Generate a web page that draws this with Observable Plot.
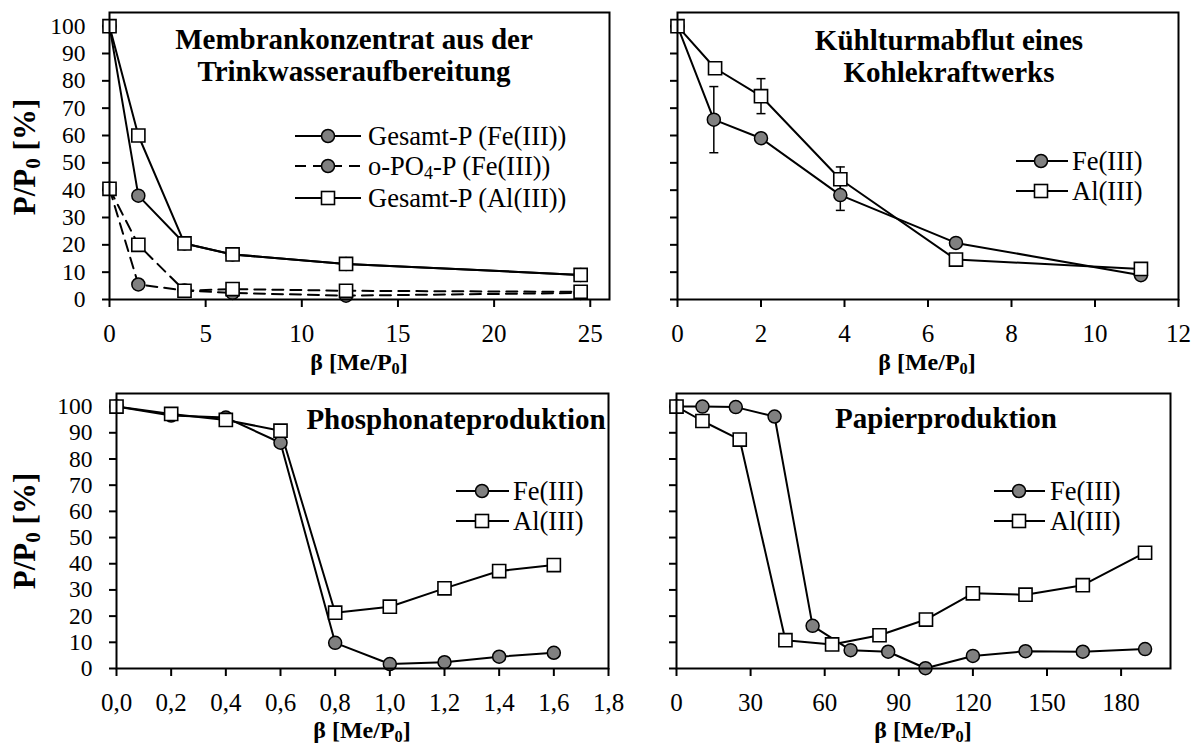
<!DOCTYPE html>
<html><head><meta charset="utf-8">
<script src="https://cdn.jsdelivr.net/npm/d3@7"></script>
<script src="https://cdn.jsdelivr.net/npm/@observablehq/plot@0.6"></script>
<style>
body{margin:0;background:#fff;}
#root{position:relative;width:1201px;height:749px;font-family:"Liberation Serif","Times New Roman",serif;color:#000;overflow:hidden;}
.panel{position:absolute;}
.title{position:absolute;font-weight:bold;font-size:29px;line-height:32px;white-space:nowrap;text-align:center;transform:translate(-50%,-50%);}
.xlab{position:absolute;font-weight:bold;font-size:24px;line-height:1;white-space:nowrap;transform:translate(-50%,-50%);}
.ylab{position:absolute;font-weight:bold;font-size:31px;line-height:1;white-space:nowrap;transform:translate(-50%,-50%) rotate(-90deg);}
.legtxt{position:absolute;font-size:26.5px;line-height:1;white-space:nowrap;transform:translateY(-50%);}
sub{font-size:0.68em;vertical-align:-0.25em;line-height:0;}
#legsvg{position:absolute;left:0;top:0;}
</style></head>
<body><div id="root"></div>
<script>
// ---------- data ----------
// Panel 1: Membrankonzentrat aus der Trinkwasseraufbereitung
const p1X      = [0, 1.5, 3.9, 6.4, 12.3, 24.5];
const p1TotFe  = [100, 38, 20.5, 16.5, 13, 9];
const p1TotAl  = [100, 60, 20.5, 16.5, 13, 9];
const p1OrthoFe = [40.5, 5.5, 3.3, 2.4, 1.4, 2.4];
const p1OrthoAl = [40.5, 20, 3.2, 3.8, 3.2, 2.8];
const p1XTicks = [0, 5, 10, 15, 20, 25];

// Panel 2: Kühlturmabflut eines Kohlekraftwerks
const p2XFe = [0, 0.87, 2.0, 3.9, 6.67, 11.1];
const p2Fe  = [100, 65.8, 59, 38.2, 20.7, 8.9];
const p2XAl = [0, 0.9, 2.0, 3.9, 6.67, 11.1];
const p2Al  = [100, 84.6, 74.4, 44, 14.6, 11.2];
const p2ErrFeX = [0.87, 3.9], p2ErrFeLo = [53.7, 32.6], p2ErrFeHi = [77.9, 43.8];
const p2ErrAlX = [2.0, 3.9],  p2ErrAlLo = [68.0, 39.5], p2ErrAlHi = [80.8, 48.5];
const p2XTicks = [0, 2, 4, 6, 8, 10, 12];

// Panel 3: Phosphonateproduktion
const p3X  = [0, 0.2, 0.4, 0.6, 0.8, 1.0, 1.2, 1.4, 1.6];
const p3Fe = [100, 96.6, 95.8, 86.2, 9.8, 1.7, 2.4, 4.5, 6.0];
const p3Al = [100, 97.2, 94.9, 90.8, 21.3, 23.6, 30.6, 37.2, 39.5];
const p3XTicks = [0, 0.2, 0.4, 0.6, 0.8, 1.0, 1.2, 1.4, 1.6, 1.8];

// Panel 4: Papierproduktion
const p4XFe = [0, 10.5, 24, 39.7, 55.1, 70.5, 85.7, 100.8, 120, 141.3, 164.5, 189.7];
const p4Fe  = [100, 100, 99.8, 96.2, 16.3, 7.0, 6.4, 0.1, 4.8, 6.6, 6.4, 7.4];
const p4XAl = [0, 10.5, 25.6, 44.1, 63, 82.2, 101, 120, 141.3, 164.5, 189.7];
const p4Al  = [100, 94.5, 87.4, 10.8, 9.2, 12.7, 18.7, 28.7, 28.2, 31.8, 44.2];
const p4XTicks = [0, 30, 60, 90, 120, 150, 180];

const yTicks = [0, 10, 20, 30, 40, 50, 60, 70, 80, 90, 100];

// ---------- helpers ----------
const pts = (xs, ys) => xs.map((x, i) => ({x, y: ys[i]}));
const errs = (xs, lo, hi) => xs.map((x, i) => ({x, lo: lo[i], hi: hi[i]}));
const FE_FILL = "#808080";
const DASH = "11,7";
const capSymbol = {draw(ctx, size) { const w = 4.5; ctx.moveTo(-w, 0); ctx.lineTo(w, 0); }};

function dotMark(data, kind) {
  if (kind === "circle") return Plot.dot(data, {x: "x", y: "y", r: 6.5, fill: FE_FILL, stroke: "black", strokeWidth: 1.5});
  return Plot.dot(data, {x: "x", y: "y", symbol: "square", r: 7.4, fill: "white", stroke: "black", strokeWidth: 1.6});
}

function panel({left, top, width, height, margins, xDomain, xTicks, xFormat, yLabels, series, errors}) {
  const marks = [
    Plot.axisY({ticks: yTicks, tickSize: 7, tickPadding: 17, strokeWidth: 2, label: null, fontSize: 23.5,
                tickFormat: yLabels ? (d => String(d)) : (() => "")}),
    Plot.axisX({ticks: xTicks, tickSize: 8, tickPadding: 17, strokeWidth: 2, label: null, fontSize: 25, tickFormat: xFormat}),
  ];
  for (const s of series) marks.push(Plot.line(s.data, {x: "x", y: "y", stroke: "black", strokeWidth: 2, strokeDasharray: s.dashed ? DASH : null}));
  if (errors) for (const e of errors) {
    marks.push(Plot.ruleX(e, {x: "x", y1: "lo", y2: "hi", stroke: "black", strokeWidth: 1.5}));
    marks.push(Plot.dot(e, {x: "x", y: "lo", symbol: capSymbol, r: 4, stroke: "black", strokeWidth: 1.5, fill: "none"}));
    marks.push(Plot.dot(e, {x: "x", y: "hi", symbol: capSymbol, r: 4, stroke: "black", strokeWidth: 1.5, fill: "none"}));
  }
  for (const s of series) marks.push(dotMark(s.data, s.kind));
  marks.push(Plot.frame({stroke: "black", strokeWidth: 2}));
  const svg = Plot.plot({
    width, height,
    marginLeft: margins[0], marginRight: margins[1], marginTop: margins[2], marginBottom: margins[3],
    x: {domain: xDomain}, y: {domain: [0, 105]},
    style: {fontFamily: "Liberation Serif, Times New Roman, serif", fontSize: "25px", color: "black", background: "transparent", overflow: "visible"},
    marks
  });
  svg.classList.add("panel");
  svg.style.left = left + "px"; svg.style.top = top + "px";
  return svg;
}

const root = document.getElementById("root");
const intFmt = d => String(d);
const commaFmt = d => d.toFixed(1).replace(".", ",");

root.appendChild(panel({left: 0, top: 0, width: 640, height: 349, margins: [109, 31, 12, 50],
  xDomain: [0, 26], xTicks: p1XTicks, xFormat: intFmt, yLabels: true,
  series: [
    {data: pts(p1X, p1OrthoFe), kind: "circle", dashed: true},
    {data: pts(p1X, p1OrthoAl), kind: "square", dashed: true},
    {data: pts(p1X, p1TotFe), kind: "circle", dashed: false},
    {data: pts(p1X, p1TotAl), kind: "square", dashed: false},
  ]}));

root.appendChild(panel({left: 620, top: 0, width: 581, height: 349, margins: [57, 23, 12, 50],
  xDomain: [0, 12], xTicks: p2XTicks, xFormat: intFmt, yLabels: false,
  series: [
    {data: pts(p2XFe, p2Fe), kind: "circle", dashed: false},
    {data: pts(p2XAl, p2Al), kind: "square", dashed: false},
  ],
  errors: [errs(p2ErrFeX, p2ErrFeLo, p2ErrFeHi), errs(p2ErrAlX, p2ErrAlLo, p2ErrAlHi)]}));

root.appendChild(panel({left: 0, top: 360, width: 640, height: 389, margins: [116, 32, 33, 81],
  xDomain: [0, 1.8], xTicks: p3XTicks, xFormat: commaFmt, yLabels: true,
  series: [
    {data: pts(p3X, p3Fe), kind: "circle", dashed: false},
    {data: pts(p3X, p3Al), kind: "square", dashed: false},
  ]}));

root.appendChild(panel({left: 620, top: 360, width: 581, height: 389, margins: [56, 31, 33, 81],
  xDomain: [0, 200], xTicks: p4XTicks, xFormat: intFmt, yLabels: false,
  series: [
    {data: pts(p4XFe, p4Fe), kind: "circle", dashed: false},
    {data: pts(p4XAl, p4Al), kind: "square", dashed: false},
  ]}));

// ---------- text overlays ----------
function addDiv(cls, html, x, y) {
  const d = document.createElement("div");
  d.className = cls; d.innerHTML = html;
  d.style.left = x + "px"; d.style.top = y + "px";
  root.appendChild(d);
  return d;
}
addDiv("title", "Membrankonzentrat aus der<br>Trinkwasseraufbereitung", 354, 55);
addDiv("title", "Kühlturmabflut eines<br>Kohlekraftwerks", 949, 56);
addDiv("title", "Phosphonateproduktion", 456, 419);
addDiv("title", "Papierproduktion", 946, 418);

const xl = "β [Me/P<sub>0</sub>]";
addDiv("xlab", xl, 359, 362);
addDiv("xlab", xl, 927, 362);
addDiv("xlab", xl, 362, 730);
addDiv("xlab", xl, 923, 730);
const yl = "P/P<sub>0</sub> [%]";
addDiv("ylab", yl, 24, 157);
addDiv("ylab", yl, 24, 531);

// legends
const legendSvg = d3.select(root).append("svg").attr("id", "legsvg").attr("width", 1201).attr("height", 749);
function legendRow(x1, x2, xs, y, kind, dashed, label, textX) {
  legendSvg.append("line").attr("x1", x1).attr("x2", x2).attr("y1", y).attr("y2", y)
    .attr("stroke", "black").attr("stroke-width", 2).attr("stroke-dasharray", dashed ? DASH : null);
  if (kind === "circle") legendSvg.append("circle").attr("cx", xs).attr("cy", y).attr("r", 6.5)
    .attr("fill", FE_FILL).attr("stroke", "black").attr("stroke-width", 1.5);
  else legendSvg.append("rect").attr("x", xs - 6.5).attr("y", y - 6.5).attr("width", 13).attr("height", 13)
    .attr("fill", "white").attr("stroke", "black").attr("stroke-width", 1.6);
  addDiv("legtxt", label, textX, y);
}
legendRow(295, 361, 328, 136, "circle", false, "Gesamt-P (Fe(III))", 368);
legendRow(295, 361, 328, 166, "circle", true, "o-PO<sub>4</sub>-P (Fe(III))", 368);
legendRow(295, 361, 328, 198, "square", false, "Gesamt-P (Al(III))", 368);

legendRow(1016, 1068, 1041, 161, "circle", false, "Fe(III)", 1072);
legendRow(1016, 1068, 1041, 191, "square", false, "Al(III)", 1072);

legendRow(456, 509, 482, 491, "circle", false, "Fe(III)", 513);
legendRow(456, 509, 482, 521, "square", false, "Al(III)", 513);

legendRow(994, 1045, 1019, 491, "circle", false, "Fe(III)", 1050);
legendRow(994, 1045, 1019, 521, "square", false, "Al(III)", 1050);
</script>
</body></html>
